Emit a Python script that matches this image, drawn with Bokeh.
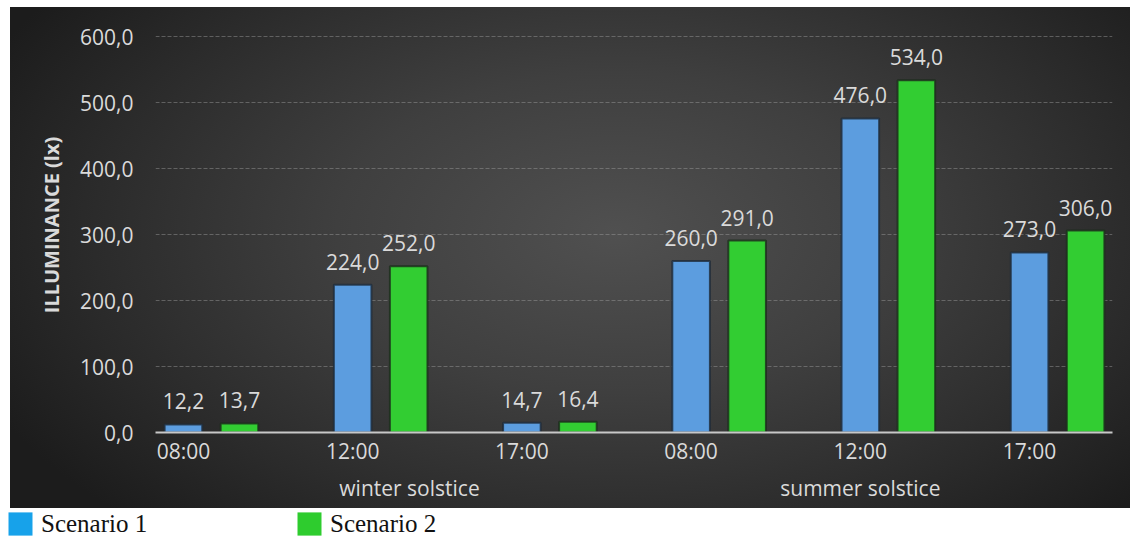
import numpy as np
from bokeh.plotting import figure
from bokeh.core.properties import value
from bokeh.models import (ColumnDataSource, FixedTicker, LinearAxis, LabelSet,
                          Legend, LegendItem, Range1d)
from bokeh.embed import file_html
from bokeh.resources import INLINE

# ---- data ----
times = ["08:00", "12:00", "17:00", "08:00", "12:00", "17:00"]
seasons = ["winter solstice", "summer solstice"]
season_pos = [1.336, 4.0]
scenario1 = [12.2, 224.0, 14.7, 260.0, 476.0, 273.0]
scenario2 = [13.7, 252.0, 16.4, 291.0, 534.0, 306.0]
series_names = ["Scenario 1", "Scenario 2"]
y_ticks = [0, 100, 200, 300, 400, 500, 600]


def fmt(v):
    return f"{v:.1f}".replace(".", ",")


idx = np.arange(len(times))
GREEN_OFF = 0.331
BAR_W = 0.222
FONT = "Open Sans"
TXT = "#dadada"
FS = "21px"

src1 = ColumnDataSource(dict(x=idx, top=scenario1, lab=[fmt(v) for v in scenario1]))
src2 = ColumnDataSource(dict(x=idx + GREEN_OFF, top=scenario2, lab=[fmt(v) for v in scenario2]))

p = figure(width=1120, height=501, x_range=Range1d(-0.165, 5.49), y_range=Range1d(0, 629),
           output_backend="svg", toolbar_location=None,
           min_border_left=145, min_border_right=18, min_border_top=10, min_border_bottom=76)
p.margin = (7, 4, 0, 10)
p.styles = {"background": "radial-gradient(ellipse 62% 80% at 54% 45%, #505050 0%, #3f3f3f 40%, #2b2b2b 75%, #1c1c1c 100%)"}
p.background_fill_alpha = 0
p.border_fill_alpha = 0
p.outline_line_color = None

p.vbar(x="x", top="top", width=BAR_W, source=src1, fill_color="#5c9ddf",
       line_color="#1e2a38", line_width=2, line_alpha=0.8)
p.vbar(x="x", top="top", width=BAR_W, source=src2, fill_color="#32cd32",
       line_color="#1c2c1c", line_width=2, line_alpha=0.8)

for s in (src1, src2):
    p.add_layout(LabelSet(x="x", y="top", text="lab", source=s, y_offset=23,
                          text_align="center", text_baseline="middle",
                          text_font=value(FONT), text_font_size=value(FS),
                          text_color=TXT))


def strip_ticks(ax):
    ax.major_tick_line_color = None
    ax.minor_tick_line_color = None
    ax.major_tick_out = 0
    ax.major_tick_in = 0
    ax.minor_tick_out = 0
    ax.minor_tick_in = 0


# y axis
ya = p.yaxis[0]
ya.ticker = FixedTicker(ticks=y_ticks)
ya.major_label_overrides = {t: fmt(t) for t in y_ticks}
ya.axis_line_color = None
strip_ticks(ya)
ya.major_label_standoff = 22
ya.major_label_text_font = FONT
ya.major_label_text_font_size = FS
ya.major_label_text_color = TXT
ya.axis_label = "ILLUMINANCE (lx)"
ya.axis_label_text_font = FONT
ya.axis_label_text_font_style = "bold"
ya.axis_label_text_font_size = "20px"
ya.axis_label_text_color = TXT
ya.axis_label_standoff = 12

# x axis (times)
xa = p.xaxis[0]
xa.ticker = FixedTicker(ticks=list(idx))
xa.major_label_overrides = {int(i): t for i, t in zip(idx, times)}
xa.axis_line_color = "#c8c8c8"
xa.axis_line_width = 2
strip_ticks(xa)
xa.major_label_standoff = 4
xa.major_label_text_font = FONT
xa.major_label_text_font_size = FS
xa.major_label_text_color = TXT

# season axis
sa = LinearAxis(ticker=FixedTicker(ticks=season_pos),
                major_label_overrides={pos: s for pos, s in zip(season_pos, seasons)})
sa.axis_line_color = None
strip_ticks(sa)
sa.major_label_standoff = 6
sa.major_label_text_font = FONT
sa.major_label_text_font_size = FS
sa.major_label_text_color = TXT
p.add_layout(sa, "below")

p.xgrid.visible = False
p.ygrid.ticker = FixedTicker(ticks=y_ticks)
p.ygrid.grid_line_color = "#a0a0a0"
p.ygrid.grid_line_alpha = 0.45
p.ygrid.grid_line_dash = "4 2"
p.ygrid.grid_line_width = 1

# legend strip (separate root so its frame is not aligned with the chart's)
leg = figure(width=1130, height=32, x_range=Range1d(0, 1), y_range=Range1d(0, 1),
             output_backend="svg", toolbar_location=None, min_border=0)
leg.outline_line_color = None
leg.axis.visible = False
leg.grid.visible = False
r1 = leg.vbar(x=[0.5], top=[0], width=0.1, fill_color="#17a2ea", line_color=None)
r2 = leg.vbar(x=[0.5], top=[0], width=0.1, fill_color="#2ecc2e", line_color=None)
for r, name, loc in ((r1, series_names[0], (5, 2)), (r2, series_names[1], (294, 2))):
    lg = Legend(items=[LegendItem(label=name, renderers=[r])], location=loc,
                glyph_width=30, glyph_height=29, label_standoff=6,
                label_text_font="Liberation Serif", label_text_font_size="25px",
                label_text_color="#111111", label_text_baseline="middle",
                padding=0, margin=0, spacing=0, border_line_alpha=0,
                background_fill_alpha=0)
    leg.add_layout(lg)

open("out.html", "w").write(file_html([p, leg], INLINE))
